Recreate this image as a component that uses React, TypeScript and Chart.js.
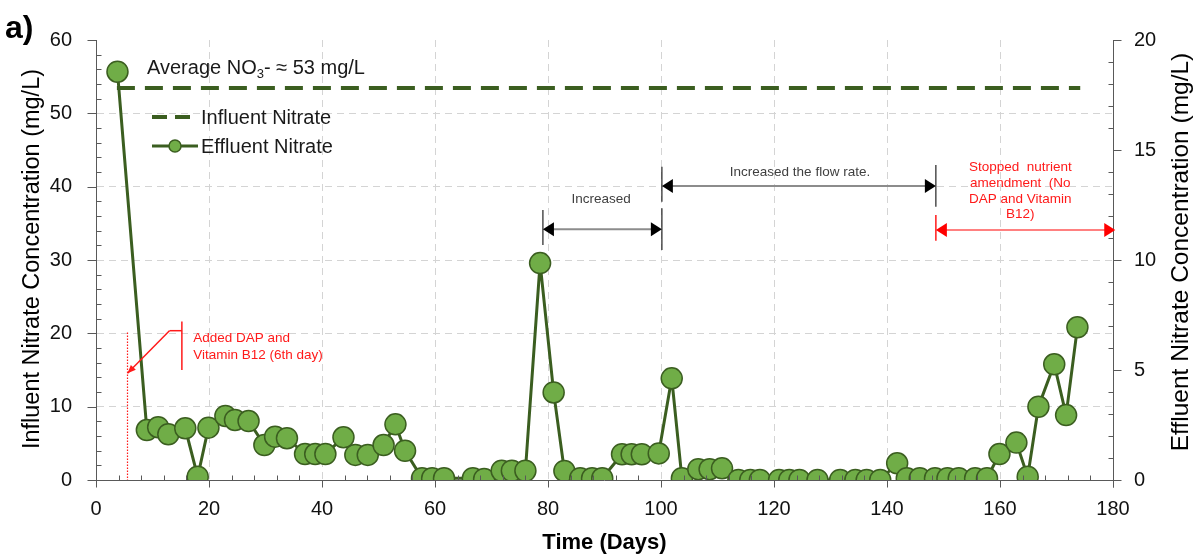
import React, { useEffect, useRef } from 'react';
import { Chart, registerables } from 'chart.js';

Chart.register(...registerables);

// ---- data ----
const effluentDays = [
  3.8, 9.0, 11.0, 12.8, 15.8, 18.0, 19.9, 22.9, 24.6, 27.0, 29.8, 31.7, 33.8,
  37.0, 38.8, 40.6, 43.8, 45.9, 48.1, 50.9, 53.0, 54.7, 57.7, 59.5, 61.6, 66.7,
  68.7, 71.8, 73.6, 76.0, 78.6, 81.0, 82.9, 85.7, 87.8, 89.6, 93.1, 94.8, 96.6,
  99.6, 101.9, 103.7, 106.6, 108.6, 110.8, 113.7, 115.8, 117.5, 120.9, 122.7,
  124.5, 127.7, 131.7, 134.4, 136.4, 138.8, 141.8, 143.5, 145.8, 148.5, 150.7,
  152.7, 155.6, 157.7, 159.9, 162.9, 164.9, 166.8, 169.6, 171.7, 173.7,
];
const effluentValues = [
  18.56, 2.27, 2.4, 2.08, 2.35, 0.15, 2.38, 2.91, 2.73, 2.68, 1.59, 1.97, 1.9,
  1.18, 1.18, 1.18, 1.94, 1.14, 1.14, 1.59, 2.53, 1.33, 0.08, 0.08, 0.08, 0.08,
  0.05, 0.42, 0.42, 0.42, 9.86, 3.98, 0.41, 0.08, 0.08, 0.08, 1.17, 1.17, 1.17,
  1.21, 4.62, 0.08, 0.49, 0.49, 0.53, 0, 0, 0, 0, 0,
  0, 0, 0, 0, 0, 0, 0.76, 0.08, 0.08, 0.08, 0.08,
  0.08, 0.08, 0.08, 1.18, 1.7, 0.15, 3.33, 5.26, 2.95, 6.94,
];
const influentDays = [3.7, 174.2];
const influentValues = [53.45, 53.45];

const xTickValues = [0, 20, 40, 60, 80, 100, 120, 140, 160, 180];
const leftTickValues = [0, 10, 20, 30, 40, 50, 60];
const rightTickValues = [0, 5, 10, 15, 20];

const FONT = '"Liberation Sans", Arial, sans-serif';
const DARK_GREEN = '#3b5e20';
const LIGHT_GREEN = '#70ad47';
const RED = '#ff1a1a';

function line(ctx: CanvasRenderingContext2D, x1: number, y1: number, x2: number, y2: number) {
  ctx.beginPath();
  ctx.moveTo(x1, y1);
  ctx.lineTo(x2, y2);
  ctx.stroke();
}

function head(ctx: CanvasRenderingContext2D, x: number, y: number, dir: number, color: string) {
  ctx.save();
  ctx.fillStyle = color;
  ctx.beginPath();
  ctx.moveTo(x, y);
  ctx.lineTo(x - dir * 11, y - 7);
  ctx.lineTo(x - dir * 11, y + 7);
  ctx.closePath();
  ctx.fill();
  ctx.restore();
}

const decorPlugin = {
  id: 'decor',
  afterDatasetsDraw(chart: any) {
    const { ctx, scales } = chart;
    const x = scales.x;
    const y = scales.y;
    const X = (d: number) => x.getPixelForValue(d);
    const Y = (v: number) => y.getPixelForValue(v);
    ctx.save();

    // ---- Added DAP annotation (red) ----
    ctx.strokeStyle = RED;
    ctx.lineWidth = 1.2;
    ctx.setLineDash([1.5, 1.5]);
    line(ctx, Math.round(X(5.47)) + 0.5, Y(20.1), Math.round(X(5.47)) + 0.5, Y(0));
    ctx.setLineDash([]);
    ctx.lineWidth = 1.5;
    line(ctx, X(15.2), Y(21.6), X(15.2), Y(15.0));
    line(ctx, X(15.2), Y(20.36), X(13.0), Y(20.36));
    const ax1 = X(13.0), ay1 = Y(20.36), ax2 = X(5.58), ay2 = Y(14.55);
    line(ctx, ax1, ay1, ax2, ay2);
    {
      const ang = Math.atan2(ay2 - ay1, ax2 - ax1);
      ctx.fillStyle = RED;
      ctx.beginPath();
      ctx.moveTo(ax2, ay2);
      ctx.lineTo(ax2 - 9 * Math.cos(ang - 0.4), ay2 - 9 * Math.sin(ang - 0.4));
      ctx.lineTo(ax2 - 9 * Math.cos(ang + 0.4), ay2 - 9 * Math.sin(ang + 0.4));
      ctx.closePath();
      ctx.fill();
    }
    ctx.fillStyle = RED;
    ctx.font = `13.5px ${FONT}`;
    ctx.textAlign = 'left';
    ctx.textBaseline = 'middle';
    ctx.fillText('Added DAP and', X(17.2), Y(19.36));
    ctx.fillText('Vitamin B12 (6th day)', X(17.2), Y(17.05));

    // ---- Increased (black) ----
    ctx.strokeStyle = '#222';
    ctx.lineWidth = 1.2;
    line(ctx, X(79.1), Y(36.82), X(79.1), Y(32.05));
    line(ctx, X(100.16), Y(42.72), X(100.16), Y(37.95));
    line(ctx, X(100.16), Y(37.05), X(100.16), Y(31.36));
    ctx.strokeStyle = '#8c8c8c';
    ctx.lineWidth = 2;
    line(ctx, X(79.1) + 8, Y(34.19), X(100.16) - 8, Y(34.19));
    head(ctx, X(79.1), Y(34.19), -1, '#000');
    head(ctx, X(100.16), Y(34.19), 1, '#000');
    ctx.fillStyle = '#404040';
    ctx.textAlign = 'center';
    ctx.fillText('Increased', X(89.4), Y(38.32));

    // ---- Increased the flow rate ----
    ctx.strokeStyle = '#222';
    ctx.lineWidth = 1.2;
    line(ctx, X(148.65), Y(42.95), X(148.65), Y(37.27));
    ctx.strokeStyle = '#8c8c8c';
    ctx.lineWidth = 2;
    line(ctx, X(100.16) + 8, Y(40.09), X(148.65) - 8, Y(40.09));
    head(ctx, X(100.16), Y(40.09), -1, '#000');
    head(ctx, X(148.65), Y(40.09), 1, '#000');
    ctx.fillStyle = '#404040';
    ctx.fillText('Increased the flow rate.', X(124.6), Y(42.0));

    // ---- Stopped nutrient amendment (red) ----
    ctx.strokeStyle = RED;
    ctx.lineWidth = 1.5;
    line(ctx, X(148.65), Y(36.14), X(148.65), Y(32.63));
    ctx.strokeStyle = '#ff8080';
    ctx.lineWidth = 2;
    line(ctx, X(148.65) + 8, Y(34.09), X(180.4) - 8, Y(34.09));
    head(ctx, X(148.65), Y(34.09), -1, '#ff0000');
    head(ctx, X(180.4), Y(34.09), 1, '#ff0000');
    ctx.fillStyle = RED;
    ctx.fillText('Stopped  nutrient', X(163.6), Y(42.64));
    ctx.fillText('amendment  (No', X(163.6), Y(40.46));
    ctx.fillText('DAP and Vitamin', X(163.6), Y(38.32));
    ctx.fillText('B12)', X(163.6), Y(36.23));

    ctx.restore();
  },
  afterDraw(chart: any) {
    const { ctx, chartArea, scales } = chart;
    const { left, right, bottom } = chartArea;
    const x = scales.x;
    const y = scales.y;
    const y2 = scales.y2;
    ctx.save();

    // ---- tick marks (major outside, minor inside) ----
    ctx.strokeStyle = '#595959';
    ctx.lineWidth = 1;
    const L = Math.round(left) + 0.5;
    const R = Math.round(right) + 0.5;
    const B = Math.round(bottom) + 0.5;
    for (let v = 0; v <= 60; v += 2) {
      const py = Math.round(y.getPixelForValue(v)) + 0.5;
      if (v % 10 === 0) line(ctx, L - 9, py, L, py);
      else line(ctx, L, py, L + 5, py);
    }
    for (let v = 0; v <= 20; v += 1) {
      const py = Math.round(y2.getPixelForValue(v)) + 0.5;
      if (v % 5 === 0) line(ctx, R, py, R + 8, py);
      else line(ctx, R - 5, py, R, py);
    }
    for (let d = 0; d <= 180; d += 4) {
      const px = Math.round(x.getPixelForValue(d)) + 0.5;
      if (d % 20 === 0) line(ctx, px, B, px, B + 7);
      else line(ctx, px, B - 5, px, B);
    }
    {
      const px = Math.round(x.getPixelForValue(180)) + 0.5;
      line(ctx, px, B, px, B + 7);
    }

    // ---- axis titles ----
    ctx.fillStyle = '#000';
    ctx.textAlign = 'center';
    ctx.textBaseline = 'middle';
    ctx.font = `23.5px ${FONT}`;
    ctx.save();
    ctx.translate(33, 259);
    ctx.rotate(-Math.PI / 2);
    ctx.fillText('Influent Nitrate Concentration (mg/L)', 0, 0);
    ctx.restore();
    ctx.font = `24.5px ${FONT}`;
    ctx.save();
    ctx.translate(1181, 252);
    ctx.rotate(-Math.PI / 2);
    ctx.fillText('Effluent Nitrate Concentration (mg/L)', 0, 0);
    ctx.restore();
    ctx.font = `bold 22px ${FONT}`;
    ctx.fillText('Time (Days)', (left + right) / 2, 543);

    // panel labels
    ctx.font = `bold 32px ${FONT}`;
    ctx.textAlign = 'left';
    ctx.fillText('a)', 5, 29);
    ctx.fillText('b)', 5, 572);

    // ---- average text ----
    ctx.font = `20px ${FONT}`;
    ctx.fillStyle = '#1a1a1a';
    ctx.textBaseline = 'alphabetic';
    let tx = 147;
    const base = 74;
    ctx.fillText('Average NO', tx, base);
    tx += ctx.measureText('Average NO').width;
    ctx.font = `13px ${FONT}`;
    ctx.fillText('3', tx, base + 4);
    tx += ctx.measureText('3').width;
    ctx.font = `20px ${FONT}`;
    ctx.fillText('- \u2248 53 mg/L', tx, base);

    // ---- legend ----
    ctx.textBaseline = 'middle';
    ctx.strokeStyle = DARK_GREEN;
    ctx.lineWidth = 4;
    ctx.setLineDash([15, 8]);
    line(ctx, 152, 117, 198, 117);
    ctx.setLineDash([]);
    ctx.lineWidth = 3;
    line(ctx, 152, 146, 198, 146);
    ctx.beginPath();
    ctx.arc(175, 146, 6, 0, Math.PI * 2);
    ctx.fillStyle = LIGHT_GREEN;
    ctx.fill();
    ctx.lineWidth = 1.5;
    ctx.stroke();
    ctx.fillStyle = '#1a1a1a';
    ctx.fillText('Influent Nitrate', 201, 118);
    ctx.fillText('Effluent Nitrate', 201, 147);

    ctx.restore();
  },
};

export default function App() {
  const canvasRef = useRef<HTMLCanvasElement | null>(null);

  useEffect(() => {
    document.body.style.margin = '0';
    const canvas = canvasRef.current;
    if (!canvas) return;

    const effluentData = effluentDays.map((d, i) => ({ x: d, y: effluentValues[i] }));
    const influentData = influentDays.map((d, i) => ({ x: d, y: influentValues[i] }));

    const chart = new Chart(canvas, {
      type: 'line',
      data: {
        datasets: [
          {
            label: 'Effluent Nitrate',
            data: effluentData,
            yAxisID: 'y2',
            borderColor: DARK_GREEN,
            borderWidth: 3,
            pointRadius: 10.5,
            pointBorderWidth: 1.5,
            pointBackgroundColor: LIGHT_GREEN,
            pointBorderColor: DARK_GREEN,
            tension: 0,
          },
          {
            label: 'Influent Nitrate',
            data: influentData,
            yAxisID: 'y',
            borderColor: DARK_GREEN,
            borderWidth: 4,
            borderDash: [18, 10],
            pointRadius: 0,
            tension: 0,
          },
        ],
      },
      options: {
        responsive: false,
        animation: false,
        layout: { padding: { top: 40, left: 0, right: 0, bottom: 0 } },
        plugins: {
          legend: { display: false },
          tooltip: { enabled: false },
        },
        scales: {
          x: {
            type: 'linear',
            min: 0,
            max: 180,
            afterBuildTicks: (s: any) => {
              s.ticks = xTickValues.map((v) => ({ value: v }));
            },
            afterFit: (s: any) => {
              s.height = 77;
            },
            ticks: {
              color: '#111',
              font: { size: 20, family: FONT },
              padding: 17,
              maxRotation: 0,
            },
            grid: {
              drawTicks: false,
              color: '#d4d4d4',
              lineWidth: (c: any) => (c.tick && (c.tick.value === 0 || c.tick.value === 180) ? 0 : 1),
            },
            border: { display: true, color: '#595959', width: 1, dash: [7, 5] },
          },
          y: {
            type: 'linear',
            position: 'left',
            min: 0,
            max: 60,
            afterBuildTicks: (s: any) => {
              s.ticks = leftTickValues.map((v) => ({ value: v }));
            },
            afterFit: (s: any) => {
              s.width = 96;
            },
            ticks: {
              color: '#111',
              font: { size: 20, family: FONT },
              padding: 24,
            },
            grid: {
              drawTicks: false,
              color: '#d4d4d4',
              lineWidth: (c: any) => (c.tick && (c.tick.value === 0 || c.tick.value === 60) ? 0 : 1),
            },
            border: { display: true, color: '#595959', width: 1, dash: [7, 5] },
          },
          y2: {
            type: 'linear',
            position: 'right',
            min: 0,
            max: 20,
            afterBuildTicks: (s: any) => {
              s.ticks = rightTickValues.map((v) => ({ value: v }));
            },
            afterFit: (s: any) => {
              s.width = 89;
            },
            ticks: {
              color: '#111',
              font: { size: 20, family: FONT },
              padding: 21,
            },
            grid: { drawOnChartArea: false, drawTicks: false },
            border: { display: true, color: '#595959', width: 1 },
          },
        },
      },
      plugins: [decorPlugin],
    });

    return () => {
      chart.destroy();
    };
  }, []);

  return (
    <div style={{ width: 1202, height: 557, position: 'relative', background: '#fff' }}>
      <canvas ref={canvasRef} width={1202} height={557} style={{ display: 'block' }} />
    </div>
  );
}
